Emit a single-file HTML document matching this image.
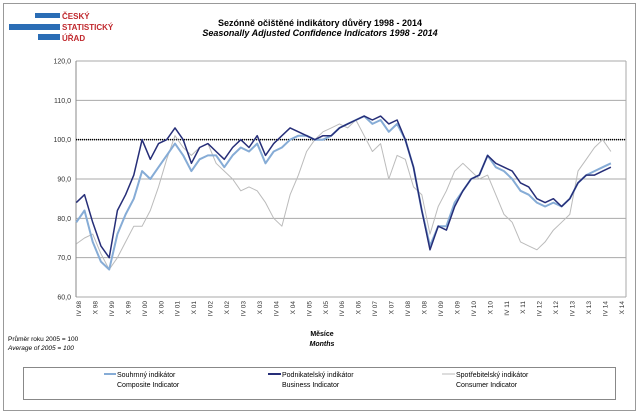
<!DOCTYPE html>
<html><head><meta charset="utf-8"><style>
body{margin:0;background:#fff;font-family:"Liberation Sans",sans-serif}
svg text{font-family:"Liberation Sans",sans-serif}
</style></head><body>
<svg width="640" height="415" viewBox="0 0 640 415">
<rect x="3.5" y="3.5" width="632" height="407" fill="#fff" stroke="#999"/>
<g>
<rect x="35" y="13" width="25" height="5" fill="#2a6db5"/>
<rect x="9" y="24" width="51" height="6" fill="#2a6db5"/>
<rect x="38" y="34" width="22" height="6" fill="#2a6db5"/>
<text x="62" y="19" font-size="8" font-weight="bold" fill="#c0282d">ČESKÝ</text>
<text x="62" y="30" font-size="8" font-weight="bold" fill="#c0282d">STATISTICKÝ</text>
<text x="62" y="41" font-size="8" font-weight="bold" fill="#c0282d">ÚŘAD</text>
</g>
<text x="320" y="26" font-size="9" font-weight="bold" text-anchor="middle">Sezónně očištěné indikátory důvěry  1998 - 2014</text>
<text x="320" y="36" font-size="9" font-weight="bold" font-style="italic" text-anchor="middle">Seasonally Adjusted Confidence Indicators  1998 - 2014</text>
<g id="grid"></g>
<g id="xl"></g>
<g id="series"></g>
<text x="322" y="336" font-size="7" font-weight="bold" text-anchor="middle">Měsíce</text>
<text x="322" y="346" font-size="7" font-weight="bold" font-style="italic" text-anchor="middle">Months</text>
<text x="8" y="341" font-size="6.5">Průměr roku 2005 = 100</text>
<text x="8" y="350" font-size="6.5" font-style="italic">Average of 2005 = 100</text>
<g>
<rect x="23.5" y="367.5" width="592" height="32" fill="#fff" stroke="#888"/>
<line x1="104" y1="374" x2="116" y2="374" stroke="#86acd6" stroke-width="2"/>
<text x="117" y="377" font-size="7">Souhrnný indikátor</text><text x="117" y="387" font-size="7">Composite Indicator</text>
<line x1="268" y1="374" x2="281" y2="374" stroke="#262e78" stroke-width="2"/>
<text x="282" y="377" font-size="7">Podnikatelský indikátor</text><text x="282" y="387" font-size="7">Business Indicator</text>
<line x1="442" y1="374" x2="455" y2="374" stroke="#bbb" stroke-width="1"/>
<text x="456" y="377" font-size="7">Spotřebitelský indikátor</text><text x="456" y="387" font-size="7">Consumer Indicator</text>
</g>
</svg>
<script>
const yTicks=[60,70,80,90,100,110,120];
const yTickLabels=["60,0","70,0","80,0","90,0","100,0","110,0","120,0"];
const xTickLabels=["IV 98","X 98","IV 99","X 99","IV 00","X 00","IV 01","X 01","IV 02","X 02","IV 03","X 03","IV 04","X 04","IV 05","X 05","IV 06","X 06","IV 07","X 07","IV 08","X 08","IV 09","X 09","IV 10","X 10","IV 11","X 11","IV 12","X 12","IV 13","X 13","IV 14","X 14"];
const months=[2,5,8,11,14,17,20,23,26,29,32,35,38,41,44,47,50,53,56,59,62,65,68,71,74,77,80,83,86,89,92,95,98,101,104,107,110,113,116,119,122,125,128,131,134,137,140,143,146,149,152,155,158,161,164,167,170,173,176,179,182,185,188,191,194,197];
const business=[84,86,79,73,70,82,86,91,100,95,99,100,103,100,94,98,99,97,95,98,100,98,101,96,99,101,103,102,101,100,101,101,103,104,105,106,105,106,104,105,100,93,82,72,78,77,83,87,90,91,96,94,93,92,89,88,85,84,85,83,85,89,91,91,92,93];
const composite=[79,82,74,69,67,76,81,85,92,90,93,96,99,96,92,95,96,96,93,96,98,97,99,94,97,98,100,101,101,100,100,101,103,104,105,106,104,105,102,104,100,93,82,73,78,78,84,87,90,91,96,93,92,90,87,86,84,83,84,83,85,89,91,92,93,94];
const consumer=[73.5,75,76,71,67,70,74,78,78,82,88,95,101,98,96,98,99,94,92,90,87,88,87,84,80,78,86,91,97,100,102,103,104,103,105,101,97,99,90,96,95,88,86,76,83,87,92,94,92,90,91,86,81,79,74,73,72,74,77,79,81,92,95,98,100,97];
const NS='http://www.w3.org/2000/svg';
const L=76,R=626,T=61,B=297;
const yS=v=>B-(v-60)/60*(B-T);
const xS=m=>79+(m-3)*2.742;
function mk(t,a,p){const e=document.createElementNS(NS,t);for(const k in a)e.setAttribute(k,a[k]);p.appendChild(e);return e;}
const g=document.getElementById('grid');
yTicks.forEach((v,i)=>{
 const ln=mk('line',{x1:L,x2:R,y1:yS(v),y2:yS(v),stroke:'#aaa','stroke-width':1},g);
 
 
 const t=mk('text',{x:L-5,y:yS(v)+2.5,'font-size':7,'text-anchor':'end',fill:'#333'},g);
 t.textContent=yTickLabels[i];
 
 
});
const ax=mk('line',{x1:L,x2:L,y1:T,y2:B,stroke:'#888'},g);


const rb=mk('line',{x1:R,x2:R,y1:T,y2:B,stroke:'#aaa'},g);


const ref=mk('line',{x1:L,x2:R,y1:yS(100),y2:yS(100),stroke:'#000','stroke-width':1.5,'stroke-dasharray':'1 1'},g);


const xl=document.getElementById('xl');
xTickLabels.forEach((s,i)=>{
 const x=xS(3+i*6)+2;
 const t=mk('text',{x:x,y:301,'font-size':6.5,'text-anchor':'end',fill:'#333',transform:`rotate(-90 ${x} 301)`},xl);
 t.textContent=s;
 
 
});
const sg=document.getElementById('series');
function line(vals,col,w,name){
 const d=vals.map((v,i)=>(i?'L':'M')+xS(months[i]).toFixed(1)+','+yS(v).toFixed(1)).join('');
 const p=mk('path',{d:d,fill:'none',stroke:col,'stroke-width':w,'stroke-linejoin':'round'},sg);
 
 
}
line(consumer,'#bbb',1,'consumer-line');
line(composite,'#86acd6',2,'composite-line');
line(business,'#262e78',1.5,'business-line');
</script>
</body></html>
